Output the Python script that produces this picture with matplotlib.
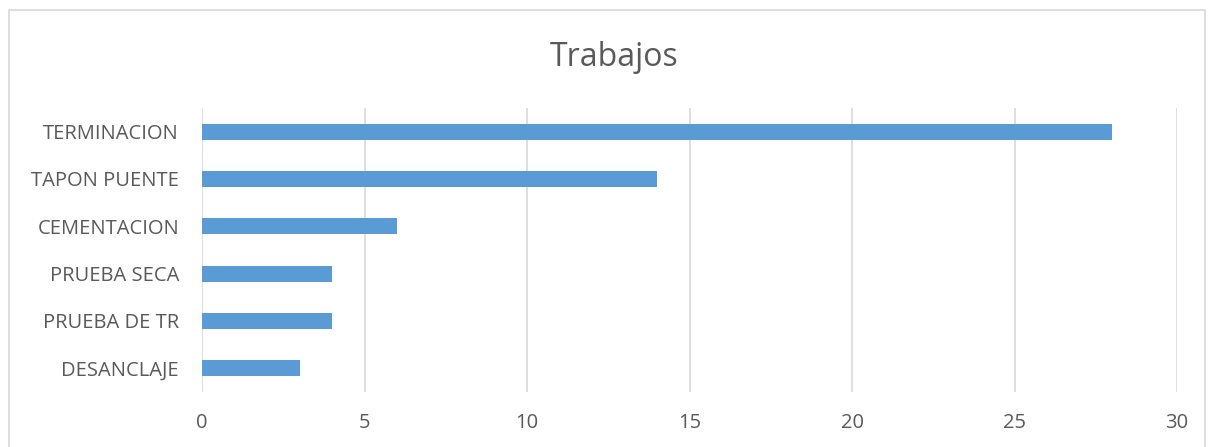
import matplotlib.pyplot as plt
from matplotlib.patches import Rectangle

categorias = ['DESANCLAJE', 'PRUEBA DE TR', 'PRUEBA SECA', 'CEMENTACION', 'TAPON PUENTE', 'TERMINACION']
valores = [3, 4, 4, 6, 14, 28]
ticks_x = [0, 5, 10, 15, 20, 25, 30]

W, H = 1211, 447
fig = plt.figure(figsize=(W / 100, H / 100), dpi=100)
plt.rcParams['font.family'] = ['Open Sans', 'DejaVu Sans']

# chart border (bottom edge is cut off in the reference)
fig.patches.append(Rectangle((9 / W, -0.05), 1196 / W, 1 - 10 / H + 0.05,
                             transform=fig.transFigure, fill=False,
                             edgecolor='#d9d9d9', linewidth=1.2))

ax = fig.add_axes([202 / W, 1 - 392 / H, (1177 - 202) / W, (392 - 108) / H])
ax.barh(range(len(categorias)), valores, height=0.34, color='#5b9bd5', zorder=3)

ax.set_xlim(0, 30)
ax.set_ylim(-0.5, len(categorias) - 0.5)
ax.set_xticks(ticks_x)
ax.set_yticks(range(len(categorias)))
ax.set_yticklabels(categorias)
ax.grid(axis='x', color='#d9d9d9', linewidth=1.2, zorder=0)
for s in ax.spines.values():
    s.set_visible(False)
ax.tick_params(length=0, labelsize=14.5, colors='#595959')
ax.tick_params(axis='x', pad=15)
ax.tick_params(axis='y', pad=16.5)

fig.text(614 / W, 1 - 57 / H, 'Trabajos', ha='center', va='center',
         fontsize=23, color='#595959')

fig.savefig('out.png', dpi=100)
